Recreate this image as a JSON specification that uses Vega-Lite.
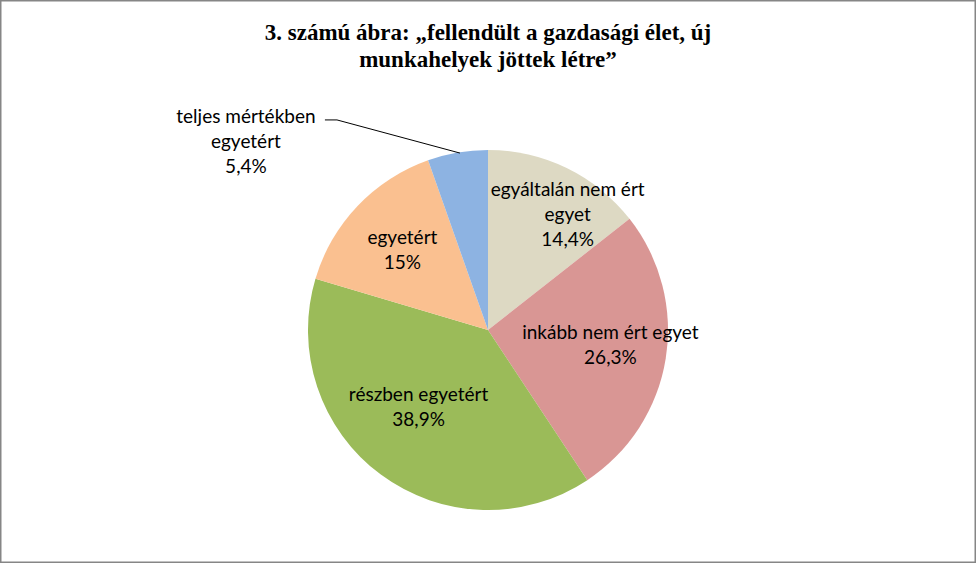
{
  "$schema": "https://vega.github.io/schema/vega-lite/v6.json",
  "width": 976,
  "height": 563,
  "autosize": {"type": "fit", "contains": "padding"},
  "padding": 0,
  "background": "white",
  "config": {"view": {"stroke": "#868686", "strokeWidth": 3}},
  "title": {
    "text": ["3. számú ábra: „fellendült a gazdasági élet, új", "munkahelyek jöttek létre”"],
    "font": "Liberation Serif",
    "fontSize": 23,
    "fontWeight": "bold",
    "color": "black",
    "lineHeight": 27,
    "offset": -72,
    "anchor": "middle"
  },
  "datasets": {
    "slices": [
      {"idx": 1, "cat": "egyáltalán nem ért egyet", "pct": 14.4, "label": "egyáltalán nem ért\negyet\n14,4%"},
      {"idx": 2, "cat": "inkább nem ért egyet", "pct": 26.3, "label": "inkább nem ért egyet\n26,3%"},
      {"idx": 3, "cat": "részben egyetért", "pct": 38.9, "label": "részben egyetért\n38,9%"},
      {"idx": 4, "cat": "egyetért", "pct": 15.0, "label": "egyetért\n15%"},
      {"idx": 5, "cat": "teljes mértékben egyetért", "pct": 5.4, "label": "teljes mértékben\negyetért\n5,4%"}
    ],
    "leader": [
      {"o": 1, "px": -0.906, "py": 1.167},
      {"o": 2, "px": -0.839, "py": 1.167},
      {"o": 3, "px": -0.156, "py": 0.983}
    ]
  },
  "layer": [
    {
      "data": {"name": "slices"},
      "mark": {"type": "arc", "outerRadius": 180},
      "encoding": {
        "x": {"datum": 0, "type": "quantitative", "scale": {"domain": [-2.7111, 2.7111], "nice": false, "zero": false}, "axis": null},
        "y": {"datum": 0, "type": "quantitative", "scale": {"domain": [-1.2944, 1.8333], "nice": false, "zero": false}, "axis": null},
        "theta": {"field": "pct", "type": "quantitative", "stack": true},
        "order": {"field": "idx", "type": "quantitative"},
        "color": {
          "field": "cat", "type": "nominal", "legend": null,
          "scale": {
            "domain": ["egyáltalán nem ért egyet", "inkább nem ért egyet", "részben egyetért", "egyetért", "teljes mértékben egyetért"],
            "range": ["#DDD9C3", "#D99694", "#9BBB59", "#FAC090", "#8DB3E2"]
          }
        }
      }
    },
    {
      "data": {"name": "slices"},
      "mark": {"type": "text", "radius": 125, "dx": 25, "dy": -28, "font": "Lato", "fontSize": 19, "lineBreak": "\n", "lineHeight": 25, "align": "center", "baseline": "middle", "color": "black"},
      "encoding": {
        "x": {"datum": 0, "type": "quantitative"},
        "y": {"datum": 0, "type": "quantitative"},
        "theta": {"field": "pct", "type": "quantitative", "stack": true},
        "order": {"field": "idx", "type": "quantitative"},
        "text": {"condition": {"test": "datum.idx !== 1", "value": ""}, "field": "label"}
      }
    },
    {
      "data": {"name": "slices"},
      "mark": {"type": "text", "radius": 125, "dx": -1, "dy": -17, "font": "Lato", "fontSize": 19, "lineBreak": "\n", "lineHeight": 25, "align": "center", "baseline": "middle", "color": "black"},
      "encoding": {
        "x": {"datum": 0, "type": "quantitative"},
        "y": {"datum": 0, "type": "quantitative"},
        "theta": {"field": "pct", "type": "quantitative", "stack": true},
        "order": {"field": "idx", "type": "quantitative"},
        "text": {"condition": {"test": "datum.idx !== 2", "value": ""}, "field": "label"}
      }
    },
    {
      "data": {"name": "slices"},
      "mark": {"type": "text", "radius": 125, "dx": 5, "dy": -35, "font": "Lato", "fontSize": 19, "lineBreak": "\n", "lineHeight": 25, "align": "center", "baseline": "middle", "color": "black"},
      "encoding": {
        "x": {"datum": 0, "type": "quantitative"},
        "y": {"datum": 0, "type": "quantitative"},
        "theta": {"field": "pct", "type": "quantitative", "stack": true},
        "order": {"field": "idx", "type": "quantitative"},
        "text": {"condition": {"test": "datum.idx !== 3", "value": ""}, "field": "label"}
      }
    },
    {
      "data": {"name": "slices"},
      "mark": {"type": "text", "radius": 125, "dx": 5, "dy": -6, "font": "Lato", "fontSize": 19, "lineBreak": "\n", "lineHeight": 25, "align": "center", "baseline": "middle", "color": "black"},
      "encoding": {
        "x": {"datum": 0, "type": "quantitative"},
        "y": {"datum": 0, "type": "quantitative"},
        "theta": {"field": "pct", "type": "quantitative", "stack": true},
        "order": {"field": "idx", "type": "quantitative"},
        "text": {"condition": {"test": "datum.idx !== 4", "value": ""}, "field": "label"}
      }
    },
    {
      "data": {"name": "slices"},
      "mark": {"type": "text", "radius": 190, "dx": -210, "dy": -26, "font": "Lato", "fontSize": 19, "lineBreak": "\n", "lineHeight": 25, "align": "center", "baseline": "middle", "color": "black"},
      "encoding": {
        "x": {"datum": 0, "type": "quantitative"},
        "y": {"datum": 0, "type": "quantitative"},
        "theta": {"field": "pct", "type": "quantitative", "stack": true},
        "order": {"field": "idx", "type": "quantitative"},
        "text": {"condition": {"test": "datum.idx !== 5", "value": ""}, "field": "label"}
      }
    },
    {
      "data": {"name": "leader"},
      "mark": {"type": "line", "color": "black", "strokeWidth": 1},
      "encoding": {
        "x": {"field": "px", "type": "quantitative"},
        "y": {"field": "py", "type": "quantitative"},
        "order": {"field": "o", "type": "quantitative"}
      }
    }
  ]
}
